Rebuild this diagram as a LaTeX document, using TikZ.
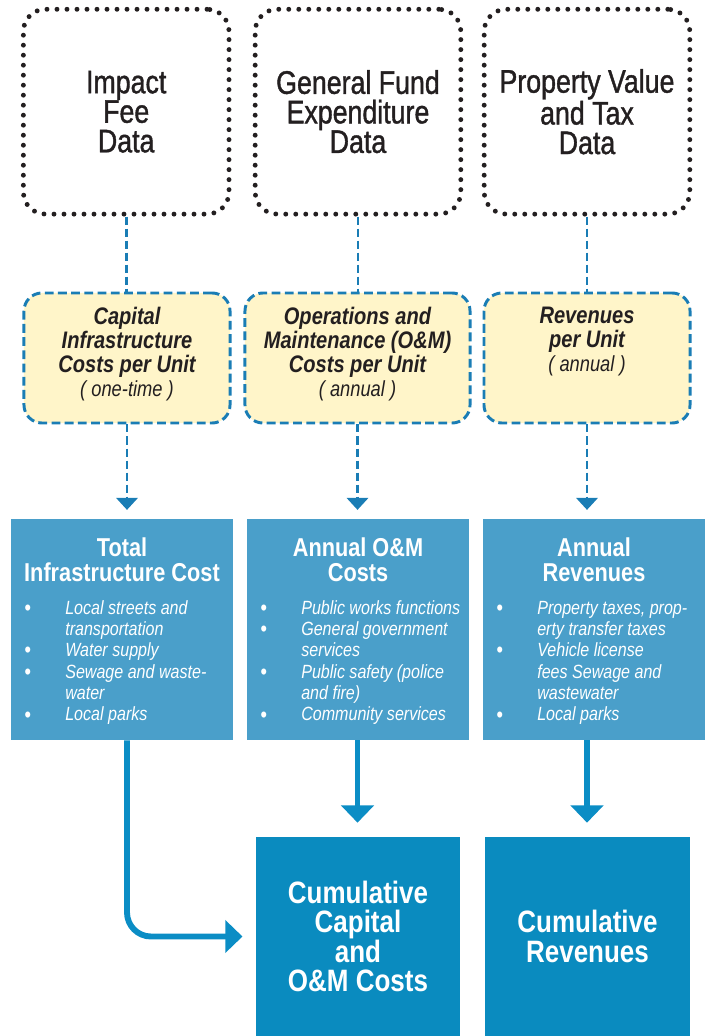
\documentclass[tikz,border=0pt]{standalone}
\usepackage{fontspec}
\setmainfont{Liberation Sans}[FakeStretch=0.84]
\newfontfamily\srcfont{Liberation Sans}[FakeStretch=0.82, FakeBold=1.2]
\usetikzlibrary{arrows.meta}

\definecolor{dotink}{HTML}{231F20}
\definecolor{dashblue}{HTML}{1A7DB5}
\definecolor{notefill}{HTML}{FFF5C9}
\definecolor{boxblue}{HTML}{4A9FCA}
\definecolor{deepblue}{HTML}{0A8BBF}
\definecolor{flowblue}{HTML}{0B8DC5}

\newcommand{\fsz}[2]{\fontsize{#1}{#2}\selectfont}
\newcommand{\dotbullet}{\smash{\raisebox{-0.8pt}{\fsz{16}{15.2}•}}}

\begin{document}
\begin{tikzpicture}[x=0.025cm, y=-0.025cm,
  source/.style={draw=dotink, line width=3.5pt, line cap=round, dash pattern=on 0pt off 0.25cm,
    rounded corners=0.55cm, minimum width=5.14cm, minimum height=5.12cm,
    align=center, text=dotink, font=\srcfont\fsz{23.2}{21}},
  unitbox/.style={draw=dashblue, fill=notefill, line width=2.1pt, dash pattern=on 0.22cm off 0.11cm,
    rounded corners=0.45cm, minimum height=3.25cm},
  unitlab/.style={align=center, text=dotink, inner sep=0pt, anchor=north, font=\bfseries\itshape\fsz{17}{17}},
  annual/.style={fill=boxblue, minimum width=5.55cm, minimum height=5.525cm},
  annlab/.style={align=center, text=white, font=\bfseries\fsz{18.4}{18}},
  items/.style={anchor=base west, inner sep=0pt, text=white, font=\itshape\fsz{13.6}{15.2}},
  total/.style={fill=deepblue, minimum height=4.975cm, align=center, text=white, font=\bfseries\fsz{22}{21}},
  dashlink/.style={draw=dashblue, line width=2.1pt, dash pattern=on 0.2cm off 0.1cm},
  flow/.style={draw=flowblue, line width=4.2pt, -{Triangle[length=0.43cm, width=0.8cm]}}
]
\useasboundingbox (0,0) rectangle (710,1036);

% data sources
\node[source] (impact) at (126.2,111.7) {Impact\\Fee\\Data};
\node[source] (general) at (358,111.7) {General Fund\\Expenditure\\Data};
\node[source] (property) at (587,111.7) {Property Value\\and Tax\\Data};

% per unit factors
\node[unitbox, minimum width=5.15cm] (capunit) at (127,358) {};
\node[unitbox, minimum width=5.625cm] (omunit) at (357.5,358) {};
\node[unitbox, minimum width=5.15cm] (revunit) at (587,358) {};
\node[unitlab] (caplab) at (127,307) {Capital\\Infrastructure\\Costs per Unit\\\mdseries\fsz{15.5}{17}( one-time )};
\node[unitlab] (omlab) at (357.5,307) {Operations and\\Maintenance (O\&M)\\Costs per Unit\\\mdseries\fsz{15.5}{17}( annual )};
\node[unitlab] (revlab) at (587,307) {Revenues\\per Unit\\\mdseries\fsz{15.5}{17}( annual )};

% annual results
\node[annual] (infra) at (122,629.5) {};
\node[annual] (omcost) at (358,629.5) {};
\node[annual] (revenue) at (594,629.5) {};
\node[annlab] (infratitle) at (122,560) {Total\\Infrastructure Cost};
\node[annlab] (omtitle) at (358,560) {Annual O\&M\\Costs};
\node[annlab] (revtitle) at (594,560) {Annual\\Revenues};

\node[items] (infralist) at (24,614) {\begin{tabular}[t]{@{}p{1.025cm}@{}l@{}}
  \dotbullet&Local streets and\\ &transportation\\ \dotbullet&Water supply\\
  \dotbullet&Sewage and waste-\\ &water\\ \dotbullet&Local parks\end{tabular}};
\node[items] (omlist) at (260,614) {\begin{tabular}[t]{@{}p{1.025cm}@{}l@{}}
  \dotbullet&Public works functions\\ \dotbullet&General government\\ &services\\
  \dotbullet&Public safety (police\\ &and fire)\\ \dotbullet&Community services\end{tabular}};
\node[items] (revlist) at (496,614) {\begin{tabular}[t]{@{}p{1.025cm}@{}l@{}}
  \dotbullet&Property taxes, prop-\\ &erty transfer taxes\\ \dotbullet&Vehicle license\\
  &fees Sewage and\\ &wastewater\\ \dotbullet&Local parks\end{tabular}};

% cumulative totals
\node[total, minimum width=5.1cm] (cumcost) at (358,936.5) {Cumulative\\Capital\\and\\O\&M Costs};
\node[total, minimum width=5.125cm] (cumrev) at (587.5,936.5) {Cumulative\\Revenues};

\foreach \src/\dst in {impact/capunit, general/omunit, property/revunit}
  \draw[dashlink] (\src.south) -- (\src.south |- \dst.north);
\foreach \src/\dst in {capunit/infra, omunit/omcost, revunit/revenue}
  \draw[dashlink, -{Triangle[length=0.3cm, width=0.53cm]}, shorten >=0.22cm]
    (\src.south) -- (\src.south |- \dst.north);

\draw[flow, shorten >=0.33cm, rounded corners=0.6cm] (capunit.south |- infra.south) |- (cumcost.west);
\draw[flow, shorten >=0.35cm] (omunit.south |- omcost.south) -- (omunit.south |- cumcost.north);
\draw[flow, shorten >=0.35cm] (revunit.south |- revenue.south) -- (revunit.south |- cumrev.north);
\end{tikzpicture}
\end{document}
